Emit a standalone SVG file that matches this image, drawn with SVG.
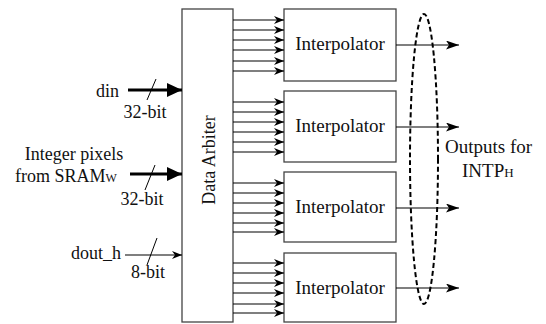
<svg xmlns="http://www.w3.org/2000/svg" width="546" height="324" viewBox="0 0 546 324">
<defs>
<marker id="ah" markerWidth="10" markerHeight="8" refX="10" refY="4" orient="auto" markerUnits="userSpaceOnUse"><path d="M0,0 L10,4 L0,8 L3,4 Z" fill="#000"/></marker>
<marker id="ahOut" markerWidth="13" markerHeight="9" refX="13" refY="4.5" orient="auto" markerUnits="userSpaceOnUse"><path d="M0,0 L13,4.5 L0,9 L3,4.5 Z" fill="#000"/></marker>
<marker id="ahBig" markerWidth="15" markerHeight="14" refX="15" refY="7" orient="auto" markerUnits="userSpaceOnUse"><path d="M0,0 L15,7 L0,14 Z" fill="#000"/></marker>
</defs>
<style>
.box{fill:#fff;stroke:#444;stroke-width:1.3}
.t{font-family:'Liberation Serif','Times New Roman',Times,Tinos,'Noto Serif','DejaVu Serif',serif;fill:#111}
.w{stroke:#000;stroke-width:1.2;fill:none}
.thick{stroke:#000;stroke-width:3;fill:none}
.slash{stroke:#000;stroke-width:1;fill:none}
</style>
<rect width="546" height="324" fill="#fff"/>
<g id="arbiter">
<rect class="box" x="182" y="9" width="51" height="313"/>
<text class="t" font-size="18" transform="translate(215,160) rotate(-90)" text-anchor="middle">Data Arbiter</text>
</g>
<g id="interp1"><rect class="box" x="284" y="9" width="112" height="72"/><text class="t" font-size="19" x="340" y="50" text-anchor="middle">Interpolator</text></g>
<g id="interp2"><rect class="box" x="284" y="91" width="112" height="71"/><text class="t" font-size="19" x="340" y="132" text-anchor="middle">Interpolator</text></g>
<g id="interp3"><rect class="box" x="284" y="172" width="112" height="70"/><text class="t" font-size="19" x="340" y="213" text-anchor="middle">Interpolator</text></g>
<g id="interp4"><rect class="box" x="284" y="253" width="112" height="69"/><text class="t" font-size="19" x="340" y="294" text-anchor="middle">Interpolator</text></g>
<g id="din-label">
<text class="t" font-size="18" x="119" y="97" text-anchor="end">din</text>
<text class="t" font-size="18" x="145" y="118" text-anchor="middle">32-bit</text>
</g>
<g id="sram-label">
<text class="t" font-size="18" x="74" y="160" text-anchor="middle">Integer pixels</text>
<text class="t" font-size="18" x="15" y="182">from SRAM<tspan font-size="12">W</tspan></text>
<text class="t" font-size="18" x="142" y="205" text-anchor="middle">32-bit</text>
</g>
<g id="dout-label">
<text class="t" font-size="18" x="121" y="259" text-anchor="end">dout_h</text>
<text class="t" font-size="18" x="148" y="278" text-anchor="middle">8-bit</text>
</g>
<g id="outputs-label">
<text class="t" font-size="19" x="445" y="153">Outputs for</text>
<text class="t" font-size="19" x="462" y="177">INTP<tspan font-size="13">H</tspan></text>
</g>
<g id="connectors">
<line class="thick" x1="128" y1="90" x2="182" y2="90" marker-end="url(#ahBig)"/>
<line class="slash" x1="147" y1="100" x2="156" y2="79"/>
<line class="thick" x1="130" y1="174" x2="182" y2="174" marker-end="url(#ahBig)"/>
<line class="slash" x1="145" y1="190" x2="155" y2="165"/>
<line class="w" x1="125" y1="255" x2="182" y2="255" marker-end="url(#ah)"/>
<line class="slash" x1="147" y1="265" x2="157" y2="238"/>
<g class="w">
<line x1="233" y1="20" x2="284" y2="20" marker-end="url(#ah)"/>
<line x1="233" y1="30" x2="284" y2="30" marker-end="url(#ah)"/>
<line x1="233" y1="40" x2="284" y2="40" marker-end="url(#ah)"/>
<line x1="233" y1="50" x2="284" y2="50" marker-end="url(#ah)"/>
<line x1="233" y1="61" x2="284" y2="61" marker-end="url(#ah)"/>
<line x1="233" y1="71" x2="284" y2="71" marker-end="url(#ah)"/>
<line x1="233" y1="102" x2="284" y2="102" marker-end="url(#ah)"/>
<line x1="233" y1="112" x2="284" y2="112" marker-end="url(#ah)"/>
<line x1="233" y1="122" x2="284" y2="122" marker-end="url(#ah)"/>
<line x1="233" y1="132" x2="284" y2="132" marker-end="url(#ah)"/>
<line x1="233" y1="142" x2="284" y2="142" marker-end="url(#ah)"/>
<line x1="233" y1="152" x2="284" y2="152" marker-end="url(#ah)"/>
<line x1="233" y1="183" x2="284" y2="183" marker-end="url(#ah)"/>
<line x1="233" y1="193" x2="284" y2="193" marker-end="url(#ah)"/>
<line x1="233" y1="203" x2="284" y2="203" marker-end="url(#ah)"/>
<line x1="233" y1="213" x2="284" y2="213" marker-end="url(#ah)"/>
<line x1="233" y1="223" x2="284" y2="223" marker-end="url(#ah)"/>
<line x1="233" y1="232" x2="284" y2="232" marker-end="url(#ah)"/>
<line x1="233" y1="263" x2="284" y2="263" marker-end="url(#ah)"/>
<line x1="233" y1="273" x2="284" y2="273" marker-end="url(#ah)"/>
<line x1="233" y1="283" x2="284" y2="283" marker-end="url(#ah)"/>
<line x1="233" y1="293" x2="284" y2="293" marker-end="url(#ah)"/>
<line x1="233" y1="304" x2="284" y2="304" marker-end="url(#ah)"/>
<line x1="233" y1="313" x2="284" y2="313" marker-end="url(#ah)"/>
<line x1="396" y1="45" x2="459" y2="45" marker-end="url(#ahOut)"/>
<line x1="396" y1="127" x2="459" y2="127" marker-end="url(#ahOut)"/>
<line x1="396" y1="208" x2="459" y2="208" marker-end="url(#ahOut)"/>
<line x1="396" y1="288" x2="459" y2="288" marker-end="url(#ahOut)"/>
</g>
<ellipse cx="424" cy="159" rx="14" ry="145" fill="none" stroke="#000" stroke-width="2" stroke-dasharray="5,3"/>
</g>
</svg>
